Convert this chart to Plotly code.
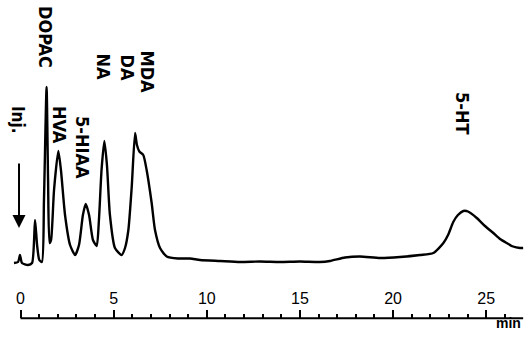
import plotly.graph_objects as go

# Chromatogram trace: retention time (min) and detector response (arb. units)
time_min = [-0.35, -0.13, -0.03, 0.08, 0.40, 0.62, 0.78, 0.89, 1.01, 1.15, 1.26, 1.40, 1.48, 1.56,
            1.64, 1.80, 2.03, 2.17, 2.39, 2.66, 2.93, 3.14, 3.35, 3.50, 3.68, 3.89, 4.09, 4.21,
            4.35, 4.50, 4.64, 4.80, 5.07, 5.43, 5.61, 5.79, 5.97, 6.15, 6.25, 6.38, 6.59, 6.77,
            7.04, 7.22, 7.49, 7.85, 8.45, 9.10, 9.64, 10.71, 11.78, 12.86, 13.93, 15.00, 16.07,
            16.61, 17.42, 18.22, 19.30, 20.37, 21.44, 22.16, 22.70, 22.95, 23.23, 23.48, 23.77,
            24.02, 24.49, 24.93, 25.38, 25.74, 26.10, 26.44, 26.81, 26.98]
response = [2, 3, 10, 2, 0, 2, 45, 20, 5, 3, 65, 178, 85, 22,
            25, 75, 114, 95, 50, 20, 10, 20, 50, 61, 50, 25, 19, 45,
            95, 124, 100, 50, 17, 10, 17, 35, 78, 132, 120, 113.5, 110, 95,
            62, 35, 17, 8.5, 6.5, 6.5, 5, 4, 3, 3.5, 3, 3.5, 3,
            4, 7.5, 8.5, 7, 8, 10, 12, 22, 30, 43, 50, 54,
            53.5, 47, 39, 32, 26, 22, 18.5, 17, 17]

# Peak labels (compound names) and the retention time / response where each is written
peak_names = ["DOPAC", "HVA", "5-HIAA", "NA", "DA", "MDA", "5-HT"]
label_time = [1.34, 2.12, 3.355, 4.455, 5.745, 6.87, 23.75]
label_resp = [227.5, 140, 118, 198, 198, 193, 151]

major_ticks = [0, 5, 10, 15, 20, 25]
minor_ticks = [t for t in range(1, 27) if t % 5 != 0]

FAM = "Liberation Sans Narrow, DejaVu Sans Condensed, Arial Narrow, sans-serif"

fig = go.Figure()
fig.add_trace(go.Scatter(x=time_min, y=response, mode="lines",
                         line=dict(color="black", width=2.4, shape="spline", smoothing=0.6),
                         hoverinfo="skip", showlegend=False))

font_lbl = dict(family=FAM, size=18, color="black", weight="bold")
for name, t, r in zip(peak_names, label_time, label_resp):
    fig.add_annotation(x=t, y=r, text=name, showarrow=False, textangle=90, font=font_lbl,
                       xanchor="center", yanchor="middle")

# Injection marker
fig.add_annotation(x=-0.13, y=145, text="Inj.", showarrow=False, textangle=90,
                   font=dict(family=FAM, size=17, color="black", weight="bold"))
fig.add_annotation(x=-0.08, y=37, ax=-0.08, ay=103, xref="x", yref="y", axref="x", ayref="y",
                   text="", showarrow=True, arrowhead=2, arrowsize=1.3, arrowwidth=2,
                   arrowcolor="black")

# Time axis line
axis_pos = (339 - 318.3) / 339
fig.add_shape(type="line", xref="x", yref="paper", x0=0, x1=26.98, y0=axis_pos, y1=axis_pos,
              line=dict(color="black", width=2))
fig.add_annotation(x=26.2, y=(339 - 333) / 339, xref="x", yref="paper", text="min",
                   showarrow=False, font=dict(family="Liberation Sans, Arial, sans-serif",
                                              size=14, color="black", weight="bold"))

fig.update_layout(
    width=526, height=339, margin=dict(l=0, r=0, t=0, b=0),
    paper_bgcolor="white", plot_bgcolor="white",
    xaxis=dict(range=[-20.5 / 18.63, (526 - 20.5) / 18.63], side="top", anchor="free",
               position=axis_pos, tickmode="array", tickvals=major_ticks,
               ticktext=[str(v) for v in major_ticks],
               ticks="outside", ticklen=8, tickwidth=1.8, tickcolor="black",
               minor=dict(tickmode="array", tickvals=minor_ticks, ticks="outside",
                          ticklen=4, tickwidth=1.8, tickcolor="black"),
               showgrid=False, zeroline=False, showline=False, automargin=False,
               tickfont=dict(family="Liberation Sans, Arial, sans-serif", size=16,
                             color="black")),
    yaxis=dict(range=[-74, 265], visible=False, showgrid=False, zeroline=False),
)

fig.write_html("out.html")
